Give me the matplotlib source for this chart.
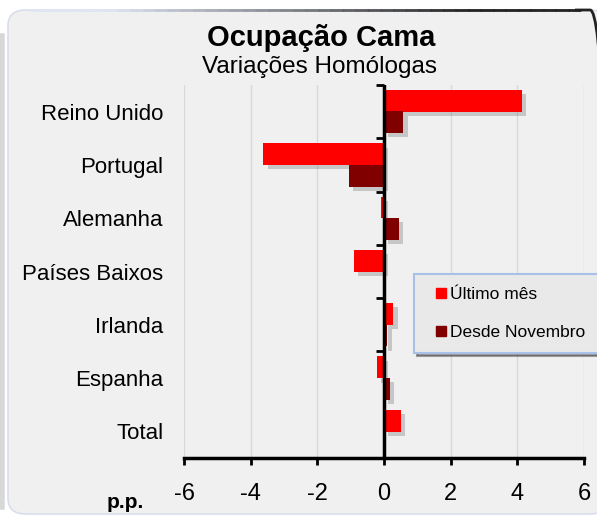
import matplotlib
matplotlib.use("Agg")
import matplotlib.pyplot as plt
import matplotlib.patheffects as pe
from matplotlib.patches import FancyBboxPatch
from matplotlib.lines import Line2D
from matplotlib.markers import TICKLEFT
from matplotlib.transforms import Bbox, TransformedBbox
import matplotlib.colors as mcolors
import numpy as np

plt.rcParams['font.family'] = ['Liberation Sans', 'DejaVu Sans']

# dados
paises = ['Reino Unido', 'Portugal', 'Alemanha', 'Países Baixos', 'Irlanda', 'Espanha', 'Total']
ultimo_mes = [4.14, -3.62, -0.08, -0.9, 0.28, -0.22, 0.5]
desde_nov = [0.58, -1.05, 0.45, 0.0, 0.1, 0.17, 0.0]
xticks = [-6, -4, -2, 0, 2, 4, 6]

bg = '#f0f0f0'
fig = plt.figure(figsize=(5.97, 5.17), dpi=100)
fig.patch.set_facecolor('white')

# moldura arredondada
caixa = (8 / 597, 3 / 517, 600 / 597, 504 / 517)
frame = FancyBboxPatch(caixa[:2], caixa[2], caixa[3],
                       boxstyle='round,pad=0,rounding_size=0.03',
                       transform=fig.transFigure, facecolor=bg,
                       edgecolor='#d8deea', linewidth=1.2, zorder=-2)
fig.add_artist(frame)
# canto superior direito escuro
borda = FancyBboxPatch(caixa[:2], caixa[2], caixa[3],
                       boxstyle='round,pad=0,rounding_size=0.03',
                       transform=fig.transFigure, facecolor='none',
                       edgecolor='#222222', linewidth=2, zorder=-1)
fig.add_artist(borda)
borda.set_clip_box(TransformedBbox(Bbox([[575 / 597, 0.5], [1.0, 1.0]]), fig.transFigure))
# topo em degradê
xs = np.linspace(30, 580, 45) / 597
c0, c1 = np.array(mcolors.to_rgb('#dfe6f2')), np.array(mcolors.to_rgb('#222222'))
t = np.clip(np.linspace(-0.2, 1.3, len(xs) - 1), 0, 1)
ytop = caixa[1] + caixa[3]
for i in range(len(xs) - 1):
    fig.add_artist(Line2D([xs[i], xs[i + 1] + 0.002], [ytop, ytop], transform=fig.transFigure,
                          color=tuple(c0 + (c1 - c0) * t[i]), lw=2, solid_capstyle='butt', zorder=-1))
fig.add_artist(Line2D([2 / 597, 2 / 597], [0.02, 0.93],
                      transform=fig.transFigure, color='#c8c8c8', lw=4, alpha=0.7, zorder=-3))

ax = fig.add_axes([184 / 597, 59 / 517, 400 / 597, 373 / 517])
ax.set_facecolor(bg)

y = np.arange(len(paises))
sombra = [pe.SimplePatchShadow(offset=(3, -3), shadow_rgbFace='#666666', alpha=0.3), pe.Normal()]
b1 = ax.barh(y - 0.2, ultimo_mes, height=0.41, color='#ff0000', zorder=3, label='Último mês')
b2 = ax.barh(y + 0.2, desde_nov, height=0.41, color='#800000', zorder=3, label='Desde Novembro')
for b in list(b1) + list(b2):
    b.set_path_effects(sombra)

ax.set_xlim(-6, 6)
ax.set_ylim(6.5, -0.5)
ax.set_xticks(xticks)
ax.set_xticklabels([str(t) for t in xticks], fontsize=17)
ax.tick_params(axis='x', direction='out', length=5, width=2, color='black', pad=13)
ax.set_yticks(y)
ax.set_yticklabels(paises, fontsize=16)
ax.tick_params(axis='y', length=0, pad=15)
ax.xaxis.grid(True, color='#d9d9d9', lw=1)
ax.set_axisbelow(True)

for s in ['top', 'right', 'left']:
    ax.spines[s].set_visible(False)
ax.spines['bottom'].set_linewidth(2.5)

# eixo vertical no zero, com marcas entre categorias
ax.axvline(0, color='black', lw=2.5, zorder=5)
limites = np.arange(len(paises) - 1) - 0.5
ax.plot(np.zeros(len(limites)), limites, ls='none', marker=TICKLEFT, ms=6, mew=2,
        color='black', zorder=5, clip_on=False)

fig.text(321 / 597, 1 - 38 / 517, 'Ocupação Cama', ha='center', va='center',
         fontsize=21, fontweight='bold')
fig.text(320 / 597, 1 - 67 / 517, 'Variações Homólogas', ha='center', va='center', fontsize=17.5)
fig.text(125 / 597, 1 - 503 / 517, 'p.p.', ha='center', va='center', fontsize=15, fontweight='bold')

handles = [Line2D([], [], ls='none', marker='s', ms=7.5, color='#ff0000'),
           Line2D([], [], ls='none', marker='s', ms=7.5, color='#800000')]
leg = fig.legend(handles, ['Último mês', 'Desde Novembro'], loc='upper left',
                 bbox_to_anchor=(414 / 597, 1 - 274 / 517),
                 prop={'family': ['Liberation Sans Narrow', 'Liberation Sans'], 'size': 12.5},
                 facecolor='#e9e9e9', edgecolor='#a9c1e9', fancybox=False, shadow=True,
                 framealpha=1, handlelength=1.6, handletextpad=-0.25,
                 labelspacing=1.3, borderpad=0.75, borderaxespad=0)
leg.get_frame().set_linewidth(1.5)

fig.savefig('out.png', dpi=100, facecolor='white')
